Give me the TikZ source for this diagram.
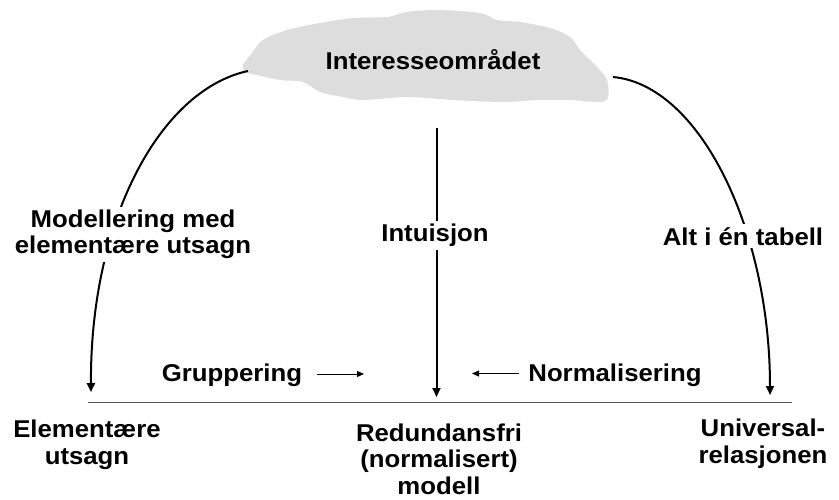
\documentclass[tikz,border=0pt]{standalone}
\usepackage{fontspec}
\setmainfont{Liberation Sans}[FakeStretch=1.06]
\usetikzlibrary{arrows.meta}
\definecolor{cloudgray}{RGB}{221,221,221}
\definecolor{rulegray}{RGB}{85,85,85}
\begin{document}
\begin{tikzpicture}[x=1pt,y=-1pt,
  lbl/.style={font=\fontsize{24.3}{26.5}\selectfont\bfseries, align=center, inner sep=1pt},
  cover/.style={lbl, fill=white, inner sep=3pt},
  mainarrow/.style={line width=2pt, -{Triangle[length=9pt,width=8pt]}},
  smallarrow/.style={line width=1pt, -{Triangle[length=7pt,width=6pt]}},
  rulestyle/.style={draw=rulegray, line width=1.6pt}
]
\useasboundingbox (0,0) rectangle (839,500);

% cloud
\fill[cloudgray] plot[smooth cycle, tension=0.55] coordinates {(243,65) (252,53) (263,40) (287,30) (320,23) (353,18) (387,17) (407,12) (437,10) (480,13) (497,20) (520,22) (550,28) (570,37) (580,50) (597,67) (607,80) (608,97) (600,102) (570,100) (537,100) (503,102) (453,100) (407,97) (363,100) (343,97) (320,92) (303,82) (280,80) (257,75) (245,72)};
\node[lbl, anchor=base] (cloud) at (433,70) {Interesseområdet};

% coordinates
\coordinate (lstart) at (248,71);
\coordinate (rstart) at (613,77);
\coordinate (mtop) at (436.5,128);
\coordinate (ltip) at (91,392);
\coordinate (mtip) at (436.5,397);
\coordinate (rtip) at (770,395);
\coordinate (rl) at (88,402.5);
\coordinate (rr) at (792,402.5);
\coordinate (ga1) at (317,374);
\coordinate (ga2) at (364,374);
\coordinate (na1) at (519,373.5);
\coordinate (na2) at (472,373.5);

% connectors
\draw[mainarrow] (lstart) .. controls (160,90) and (90,220) .. (ltip);
\draw[mainarrow] (rstart) .. controls (700,85) and (770,230) .. (rtip);
\draw[mainarrow] (mtop) -- (mtip);
\draw[rulestyle] (rl) -- (rr);

% labels on connectors
\node[cover, anchor=base] (model) at (133,254) {Modellering med\\elementære utsagn};
\node[cover, anchor=base] (intu) at (435,242) {Intuisjon};
\node[cover, anchor=base] (alt) at (743,245) {Alt i én tabell};

\node[lbl, anchor=base] (grp) at (232,381) {Gruppering};
\node[lbl, anchor=base] (norm) at (615,381) {Normalisering};
\draw[smallarrow] (ga1) -- (ga2);
\draw[smallarrow] (na1) -- (na2);

% bottom labels
\node[lbl, anchor=base] (elem) at (87,464) {Elementære\\utsagn};
\node[lbl, anchor=base] (redund) at (439,494) {Redundansfri\\(normalisert)\\modell};
\node[lbl, anchor=base] (univ) at (763,463) {Universal-\\relasjonen};
\end{tikzpicture}
\end{document}
